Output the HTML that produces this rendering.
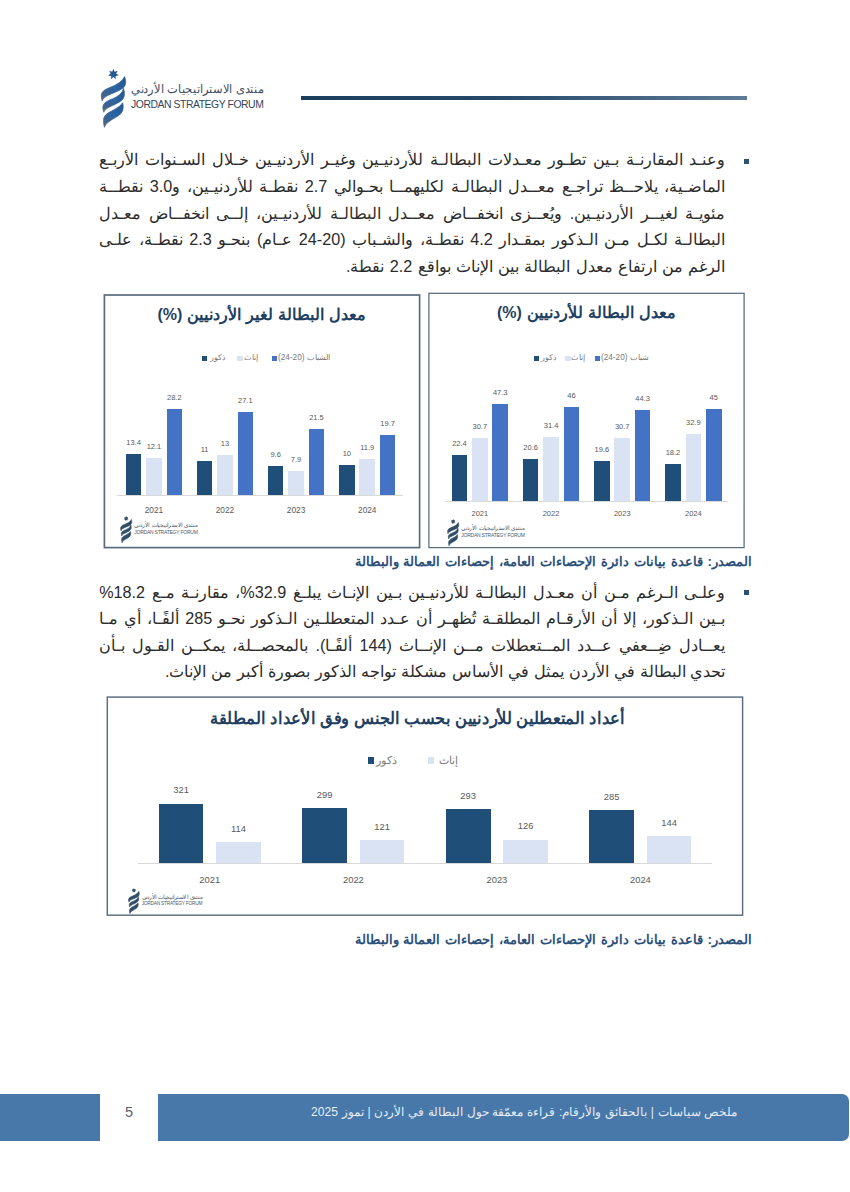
<!DOCTYPE html>
<html lang="ar">
<head>
<meta charset="utf-8">
<title>Jordan Strategy Forum - Policy Brief</title>
<style>
html,body{margin:0;padding:0;}
body{width:850px;height:1192px;position:relative;overflow:hidden;background:#ffffff;font-family:"Liberation Sans", sans-serif;color:#333;}
.abs{position:absolute;}
/* header */
.hline{position:absolute;left:301px;top:96px;width:446px;height:3.5px;background:linear-gradient(90deg,#1c3d5c 0%,#27496a 45%,#5d7b96 100%);}
/* logo */
.logo{position:absolute;left:0;top:0;width:170px;height:64px;transform-origin:0 0;}
.logo svg{position:absolute;left:0;top:0;}
.logo .ar{position:absolute;left:30.5px;top:11px;width:139px;height:18px;line-height:18px;font-size:12px;color:#3f4f62;direction:rtl;text-align:justify;text-align-last:justify;white-space:nowrap;transform:scaleX(0.955);transform-origin:0 0;}
.logo .en{position:absolute;left:31px;top:29px;width:140px;height:14px;line-height:14px;font-size:10.4px;letter-spacing:-0.44px;color:#344659;white-space:nowrap;direction:ltr;text-align:left;}
.logo.dk .ar{color:#4a5868;transform:scale(0.99,1.04);}
.logo.dk .en{color:#4a5868;transform:scale(1.04);transform-origin:0 50%;}
/* body text */
.ln{position:absolute;left:99.2px;width:626.3px;height:26px;line-height:26px;font-size:16.2px;color:#2b2b2b;direction:rtl;text-align:justify;text-align-last:justify;white-space:nowrap;}
.ln.last{text-align:justify;text-align-last:justify;}
.bul{position:absolute;left:744px;width:4.5px;height:4.5px;background:#2f5070;}
.cap{position:absolute;left:354.5px;width:397.5px;height:18px;line-height:18px;font-size:13.4px;font-weight:bold;color:#2b507a;direction:rtl;text-align:justify;text-align-last:justify;white-space:nowrap;}
/* charts */
.box{position:absolute;}
.ttl{position:absolute;font-weight:bold;color:#1f3f63;direction:rtl;text-align:justify;text-align-last:justify;white-space:nowrap;}
.bar{position:absolute;}
.d{background:#1f4e79;}
.l{background:#dae3f3;}
.m{background:#4472c4;}
.ax{position:absolute;height:1px;background:#d9d9d9;}
.v{position:absolute;width:40px;margin-left:-20px;text-align:center;color:#595959;font-size:7px;line-height:8px;height:8px;direction:ltr;}
.yr{position:absolute;width:50px;margin-left:-25px;text-align:center;color:#595959;font-size:7px;line-height:8px;height:8px;direction:ltr;}
.lg{position:absolute;height:10px;line-height:10px;font-size:8.2px;color:#7a7a7a;white-space:nowrap;direction:rtl;}
.sq{position:absolute;}
/* footer */
.fbar{position:absolute;left:0;top:1094px;width:849px;height:47px;background:#4778a9;border-radius:0 7px 7px 0;}
.fnum{position:absolute;left:100px;top:1092px;width:58px;height:51px;background:#fff;}
.fnum span{position:absolute;left:0;width:58px;top:12px;height:16px;line-height:16px;text-align:center;font-size:14.5px;color:#5a6270;}
.ftxt{position:absolute;left:311px;width:426.5px;top:1101.5px;height:20px;line-height:20px;font-size:12.1px;color:#e6edf5;direction:rtl;text-align:justify;text-align-last:justify;white-space:nowrap;}
</style>
</head>
<body>

<svg width="0" height="0" style="position:absolute">
  <defs>
    <linearGradient id="rg" x1="0" y1="1" x2="1" y2="0">
      <stop offset="0" stop-color="#56677b"/>
      <stop offset="0.28" stop-color="#3a6294"/>
      <stop offset="0.55" stop-color="#2a64a2"/>
      <stop offset="1" stop-color="#26568a"/>
    </linearGradient>
    <g id="icon">
      <!-- star -->
      <path fill="#255a8e" d="M13.40 -0.30 L14.61 2.68 L17.70 1.77 L16.13 4.58 L18.76 6.42 L15.59 6.95 L15.79 10.16 L13.40 8.00 L11.01 10.16 L11.21 6.95 L8.04 6.42 L10.67 4.58 L9.10 1.77 L12.19 2.68 Z"/>
      <!-- ribbons -->
      <path fill="url(#rg)" stroke="url(#rg)" stroke-width="0.7" stroke-linejoin="round" d="M2.2 31.9 C1.0 28.0 0.8 25.5 2.2 23.4 C4.6 19.8 10.5 18.6 15.4 16.0 C19.6 13.8 23.0 11.0 24.6 7.6 C25.6 10.8 26.2 13.6 25.1 16.2 C23.4 20.2 17.5 22.2 12.4 24.4 C7.6 26.4 3.4 28.2 2.2 31.9 Z"/>
      <path fill="url(#rg)" stroke="url(#rg)" stroke-width="0.7" stroke-linejoin="round" d="M3.8 43.3 C2.6 39.6 2.4 37.2 3.8 35.1 C6.0 31.8 11.4 30.6 15.9 28.2 C19.8 26.1 22.4 23.4 23.6 19.4 C24.5 22.8 24.8 25.8 23.8 28.4 C22.2 32.4 16.8 34.4 12.4 36.6 C8.4 38.6 4.8 40.0 3.8 43.3 Z"/>
      <path fill="url(#rg)" stroke="url(#rg)" stroke-width="0.7" stroke-linejoin="round" d="M4.4 58.4 C3.4 54.0 3.0 50.6 4.2 48.0 C6.0 44.2 11.0 42.6 15.0 40.2 C18.6 38.0 21.4 36.0 22.6 33.8 C23.4 36.8 23.5 39.6 22.4 42.2 C20.8 46.0 16.4 47.8 12.6 50.2 C9.2 52.4 5.6 54.4 4.4 58.4 Z"/>
    </g>
    <linearGradient id="rg2" x1="0" y1="1" x2="1" y2="0">
      <stop offset="0" stop-color="#3a5068"/>
      <stop offset="1" stop-color="#2c4a66"/>
    </linearGradient>
    <g id="icon2">
      <path fill="#33506b" d="M13.40 0.20 L14.79 2.72 L17.62 2.23 L16.52 4.89 L18.66 6.80 L15.90 7.60 L15.74 10.47 L13.40 8.80 L11.06 10.47 L10.90 7.60 L8.14 6.80 L10.28 4.89 L9.18 2.23 L12.01 2.72 Z"/>
      <path fill="url(#rg2)" stroke="#31506b" stroke-width="1.3" stroke-linejoin="round" d="M2.2 31.9 C1.0 28.0 0.8 25.5 2.2 23.4 C4.6 19.8 10.5 18.6 15.4 16.0 C19.6 13.8 23.0 11.0 24.6 7.6 C25.6 10.8 26.2 13.6 25.1 16.2 C23.4 20.2 17.5 22.2 12.4 24.4 C7.6 26.4 3.4 28.2 2.2 31.9 Z"/>
      <path fill="url(#rg2)" stroke="#31506b" stroke-width="1.3" stroke-linejoin="round" d="M3.8 43.3 C2.6 39.6 2.4 37.2 3.8 35.1 C6.0 31.8 11.4 30.6 15.9 28.2 C19.8 26.1 22.4 23.4 23.6 19.4 C24.5 22.8 24.8 25.8 23.8 28.4 C22.2 32.4 16.8 34.4 12.4 36.6 C8.4 38.6 4.8 40.0 3.8 43.3 Z"/>
      <path fill="url(#rg2)" stroke="#31506b" stroke-width="1.3" stroke-linejoin="round" d="M4.4 58.4 C3.4 54.0 3.0 50.6 4.2 48.0 C6.0 44.2 11.0 42.6 15.0 40.2 C18.6 38.0 21.4 36.0 22.6 33.8 C23.4 36.8 23.5 39.6 22.4 42.2 C20.8 46.0 16.4 47.8 12.6 50.2 C9.2 52.4 5.6 54.4 4.4 58.4 Z"/>
    </g>
  </defs>
</svg>

<!-- HEADER -->
<div class="logo" style="left:100px;top:69px;"><svg width="28" height="60" viewBox="0 0 28 60"><use href="#icon"/></svg><div class="ar">منتدى الاستراتيجيات الأردني</div><div class="en">JORDAN STRATEGY FORUM</div></div>

<div class="hline"></div>
<!-- PARAGRAPH 1 -->
<div class="bul" style="top:159px"></div>
<div class="ln" style="top:146.3px">وعنـد المقارنـة بـين تطـور معـدلات البطالـة للأردنيـين وغيـر الأردنيـين خـلال السـنوات الأربـع</div>
<div class="ln" style="top:173.3px">الماضـية، يلاحــظ تراجـع معــدل البطالـة لكليهمــا بحـوالي 2.7 نقطـة للأردنيـين، و3.0 نقطــة</div>
<div class="ln" style="top:199.8px">مئويـة لغيــر الأردنيـين. ويُعــزى انخفــاض معــدل البطالـة للأردنيـين، إلــى انخفــاض معـدل</div>
<div class="ln" style="top:226px">البطالـة لكـل مـن الـذكور بمقـدار 4.2 نقطـة، والشـباب (20-24 عـام) بنحـو 2.3 نقطـة، علـى</div>
<div class="ln last" style="top:252.7px;left:346px;width:379.5px">الرغم من ارتفاع معدل البطالة بين الإناث بواقع 2.2 نقطة.</div>
<!-- CHART: non-Jordanians -->
<svg class="box" style="left:0;top:0" width="850" height="1192"><rect x="104.4" y="295" width="315.2" height="252.6" fill="#fff" stroke="#5a6c7d" stroke-width="1.7"/></svg>
<div class="ttl" style="left:157.5px;top:302.86px;width:209px;height:24px;line-height:24px;font-size:16px;">معدل البطالة لغير الأردنيين (%)</div>
<div class="sq d" style="left:202.1px;top:355.8px;width:5.4px;height:5.4px;"></div>
<div class="lg" style="left:209.5px;top:353px;font-size:8.2px;">ذكور</div>
<div class="sq l" style="left:237.4px;top:355.8px;width:5.4px;height:5.4px;"></div>
<div class="lg" style="left:243.5px;top:353px;font-size:8.2px;">إناث</div>
<div class="sq m" style="left:272.1px;top:355.8px;width:5.4px;height:5.4px;"></div>
<div class="lg" style="left:278px;top:353px;font-size:8.2px;">الشباب (20-24)</div>
<div class="ax" style="left:117px;top:495px;width:286px;"></div>
<div class="bar d" style="left:125.7px;top:454.13px;width:15.7px;height:40.87px;"></div>
<div class="v" style="left:133.55px;top:439.13px;font-size:7.5px;">13.4</div>
<div class="bar l" style="left:146.1px;top:458.1px;width:15.7px;height:36.9px;"></div>
<div class="v" style="left:153.95px;top:443.1px;font-size:7.5px;">12.1</div>
<div class="bar m" style="left:166.5px;top:408.99px;width:15.7px;height:86.01px;"></div>
<div class="v" style="left:174.35px;top:393.99px;font-size:7.5px;">28.2</div>
<div class="yr" style="left:153.95px;top:505.7px;font-size:8.3px;">2021</div>
<div class="bar d" style="left:196.7px;top:461.45px;width:15.7px;height:33.55px;"></div>
<div class="v" style="left:204.55px;top:446.45px;font-size:7.5px;">11</div>
<div class="bar l" style="left:217.1px;top:455.35px;width:15.7px;height:39.65px;"></div>
<div class="v" style="left:224.95px;top:440.35px;font-size:7.5px;">13</div>
<div class="bar m" style="left:237.5px;top:412.35px;width:15.7px;height:82.66px;"></div>
<div class="v" style="left:245.35px;top:397.35px;font-size:7.5px;">27.1</div>
<div class="yr" style="left:224.95px;top:505.7px;font-size:8.3px;">2022</div>
<div class="bar d" style="left:267.8px;top:465.72px;width:15.7px;height:29.28px;"></div>
<div class="v" style="left:275.65px;top:450.72px;font-size:7.5px;">9.6</div>
<div class="bar l" style="left:288.2px;top:470.9px;width:15.7px;height:24.09px;"></div>
<div class="v" style="left:296.05px;top:455.9px;font-size:7.5px;">7.9</div>
<div class="bar m" style="left:308.6px;top:429.43px;width:15.7px;height:65.58px;"></div>
<div class="v" style="left:316.45px;top:414.43px;font-size:7.5px;">21.5</div>
<div class="yr" style="left:296.05px;top:505.7px;font-size:8.3px;">2023</div>
<div class="bar d" style="left:339px;top:464.5px;width:15.7px;height:30.5px;"></div>
<div class="v" style="left:346.85px;top:449.5px;font-size:7.5px;">10</div>
<div class="bar l" style="left:359.4px;top:458.7px;width:15.7px;height:36.3px;"></div>
<div class="v" style="left:367.25px;top:443.7px;font-size:7.5px;">11.9</div>
<div class="bar m" style="left:379.8px;top:434.92px;width:15.7px;height:60.08px;"></div>
<div class="v" style="left:387.65px;top:419.92px;font-size:7.5px;">19.7</div>
<div class="yr" style="left:367.25px;top:505.7px;font-size:8.3px;">2024</div>
<div class="logo dk" style="left:120px;top:515.6px;transform:scale(0.46);"><svg width="28" height="60" viewBox="0 0 28 60"><use href="#icon2"/></svg><div class="ar">منتدى الاستراتيجيات الأردني</div><div class="en">JORDAN STRATEGY FORUM</div></div>


<!-- CHART: Jordanians -->
<svg class="box" style="left:0;top:0" width="850" height="1192"><rect x="428.9" y="293.3" width="315.2" height="254.3" fill="#fff" stroke="#5a6c7d" stroke-width="1.25"/></svg>
<div class="ttl" style="left:497px;top:300.76px;width:179px;height:24px;line-height:24px;font-size:16px;">معدل البطالة للأردنيين (%)</div>
<div class="sq d" style="left:533.6px;top:355.8px;width:5.4px;height:5.4px;"></div>
<div class="lg" style="left:541px;top:353px;font-size:8.2px;">ذكور</div>
<div class="sq l" style="left:565.4px;top:355.8px;width:5.4px;height:5.4px;"></div>
<div class="lg" style="left:571px;top:353px;font-size:8.2px;">إناث</div>
<div class="sq m" style="left:594.6px;top:355.8px;width:5.4px;height:5.4px;"></div>
<div class="lg" style="left:601px;top:353px;font-size:8.2px;">شباب (20-24)</div>
<div class="ax" style="left:445px;top:501px;width:283px;"></div>
<div class="bar d" style="left:451.6px;top:455.08px;width:15.7px;height:45.92px;"></div>
<div class="v" style="left:459.45px;top:440.28px;font-size:7.5px;">22.4</div>
<div class="bar l" style="left:472px;top:438.06px;width:15.7px;height:62.93px;"></div>
<div class="v" style="left:479.85px;top:423.27px;font-size:7.5px;">30.7</div>
<div class="bar m" style="left:492.4px;top:404.04px;width:15.7px;height:96.96px;"></div>
<div class="v" style="left:500.25px;top:389.24px;font-size:7.5px;">47.3</div>
<div class="yr" style="left:479.85px;top:509.8px;font-size:7.5px;">2021</div>
<div class="bar d" style="left:522.8px;top:458.77px;width:15.7px;height:42.23px;"></div>
<div class="v" style="left:530.65px;top:443.97px;font-size:7.5px;">20.6</div>
<div class="bar l" style="left:543.2px;top:436.63px;width:15.7px;height:64.37px;"></div>
<div class="v" style="left:551.05px;top:421.83px;font-size:7.5px;">31.4</div>
<div class="bar m" style="left:563.6px;top:406.7px;width:15.7px;height:94.3px;"></div>
<div class="v" style="left:571.45px;top:391.9px;font-size:7.5px;">46</div>
<div class="yr" style="left:551.05px;top:509.8px;font-size:7.5px;">2022</div>
<div class="bar d" style="left:594px;top:460.82px;width:15.7px;height:40.18px;"></div>
<div class="v" style="left:601.85px;top:446.02px;font-size:7.5px;">19.6</div>
<div class="bar l" style="left:614.4px;top:438.06px;width:15.7px;height:62.93px;"></div>
<div class="v" style="left:622.25px;top:423.27px;font-size:7.5px;">30.7</div>
<div class="bar m" style="left:634.8px;top:410.19px;width:15.7px;height:90.81px;"></div>
<div class="v" style="left:642.65px;top:395.39px;font-size:7.5px;">44.3</div>
<div class="yr" style="left:622.25px;top:509.8px;font-size:7.5px;">2023</div>
<div class="bar d" style="left:665.1px;top:463.69px;width:15.7px;height:37.31px;"></div>
<div class="v" style="left:672.95px;top:448.89px;font-size:7.5px;">18.2</div>
<div class="bar l" style="left:685.5px;top:433.56px;width:15.7px;height:67.44px;"></div>
<div class="v" style="left:693.35px;top:418.76px;font-size:7.5px;">32.9</div>
<div class="bar m" style="left:705.9px;top:408.75px;width:15.7px;height:92.25px;"></div>
<div class="v" style="left:713.75px;top:393.95px;font-size:7.5px;">45</div>
<div class="yr" style="left:693.35px;top:509.8px;font-size:7.5px;">2024</div>
<div class="logo dk" style="left:447.4px;top:518.5px;transform:scale(0.46);"><svg width="28" height="60" viewBox="0 0 28 60"><use href="#icon2"/></svg><div class="ar">منتدى الاستراتيجيات الأردني</div><div class="en">JORDAN STRATEGY FORUM</div></div>


<div class="cap" style="top:553px">المصدر: قاعدة بيانات دائرة الإحصاءات العامة، إحصاءات العمالة والبطالة</div>
<!-- PARAGRAPH 2 -->
<div class="bul" style="top:590px"></div>
<div class="ln" style="top:578.6px">وعلـى الـرغم مـن أن معـدل البطالـة للأردنيـين بـين الإنـاث يبلـغ 32.9%، مقارنـة مـع 18.2%</div>
<div class="ln" style="top:605.1px">بـين الـذكور، إلا أن الأرقـام المطلقـة تُظهـر أن عـدد المتعطلـين الـذكور نحـو 285 ألفًـا، أي مـا</div>
<div class="ln" style="top:631.6px">يعــادل ضِــعفي عــدد المــتعطلات مــن الإنــاث (144 ألفًـا). بالمحصــلة، يمكــن القـول بـأن</div>
<div class="ln last" style="top:657.9px;left:165px;width:560.5px">تحدي البطالة في الأردن يمثل في الأساس مشكلة تواجه الذكور بصورة أكبر من الإناث.</div>
<!-- CHART: absolute numbers -->
<svg class="box" style="left:0;top:0" width="850" height="1192"><rect x="107.3" y="697.1" width="635.3" height="218.1" fill="#fff" stroke="#5a6c7d" stroke-width="1.45"/></svg>
<div class="ttl" style="left:209.5px;top:706.85px;width:432.12px;height:24px;line-height:24px;font-size:16.6px;transform:scaleX(0.96);transform-origin:0 0;">أعداد المتعطلين للأردنيين بحسب الجنس وفق الأعداد المطلقة</div>
<div class="sq d" style="left:368px;top:757.4px;width:6.2px;height:6.2px;"></div>
<div class="lg" style="left:375.5px;top:755px;font-size:10.6px;">ذكور</div>
<div class="sq l" style="left:428.3px;top:757.4px;width:6.2px;height:6.2px;"></div>
<div class="lg" style="left:438.5px;top:755px;font-size:10.6px;">إناث</div>
<div class="ax" style="left:138px;top:862.8px;width:574px;"></div>
<div class="bar d" style="left:158.7px;top:803.58px;width:44.8px;height:59.22px;"></div>
<div class="v" style="left:181.1px;top:786.48px;font-size:9.4px;">321</div>
<div class="bar l" style="left:216.1px;top:841.77px;width:44.8px;height:21.03px;"></div>
<div class="v" style="left:238.5px;top:824.67px;font-size:9.4px;">114</div>
<div class="yr" style="left:209.8px;top:875.6px;font-size:9.4px;">2021</div>
<div class="bar d" style="left:302.3px;top:807.63px;width:44.8px;height:55.17px;"></div>
<div class="v" style="left:324.7px;top:790.53px;font-size:9.4px;">299</div>
<div class="bar l" style="left:359.7px;top:840.48px;width:44.8px;height:22.32px;"></div>
<div class="v" style="left:382.1px;top:823.38px;font-size:9.4px;">121</div>
<div class="yr" style="left:353.4px;top:875.6px;font-size:9.4px;">2022</div>
<div class="bar d" style="left:445.8px;top:808.74px;width:44.8px;height:54.06px;"></div>
<div class="v" style="left:468.2px;top:791.64px;font-size:9.4px;">293</div>
<div class="bar l" style="left:503.2px;top:839.55px;width:44.8px;height:23.25px;"></div>
<div class="v" style="left:525.6px;top:822.45px;font-size:9.4px;">126</div>
<div class="yr" style="left:496.9px;top:875.6px;font-size:9.4px;">2023</div>
<div class="bar d" style="left:589.3px;top:810.22px;width:44.8px;height:52.58px;"></div>
<div class="v" style="left:611.7px;top:793.12px;font-size:9.4px;">285</div>
<div class="bar l" style="left:646.7px;top:836.23px;width:44.8px;height:26.57px;"></div>
<div class="v" style="left:669.1px;top:819.13px;font-size:9.4px;">144</div>
<div class="yr" style="left:640.4px;top:875.6px;font-size:9.4px;">2024</div>
<div class="logo dk" style="left:128.3px;top:887.8px;transform:scale(0.44);"><svg width="28" height="60" viewBox="0 0 28 60"><use href="#icon2"/></svg><div class="ar">منتدى الاستراتيجيات الأردني</div><div class="en">JORDAN STRATEGY FORUM</div></div>


<div class="cap" style="top:931px">المصدر: قاعدة بيانات دائرة الإحصاءات العامة، إحصاءات العمالة والبطالة</div>
<!-- FOOTER -->
<div class="fbar"></div>
<div class="fnum"><span>5</span></div>
<div class="ftxt">ملخص سياسات | بالحقائق والأرقام: قراءة معمّقة حول البطالة في الأردن | تموز 2025</div>
</body>
</html>
